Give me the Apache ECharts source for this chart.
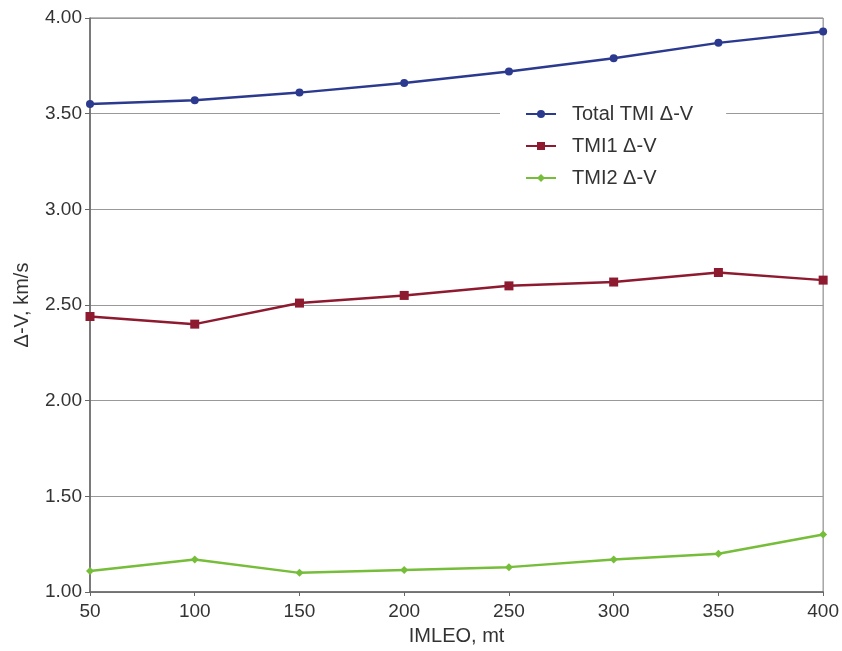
<!DOCTYPE html>
<html><head><meta charset="utf-8">
<script src="https://cdn.jsdelivr.net/npm/echarts@6/dist/echarts.min.js"></script>
<style>html,body{margin:0;padding:0;background:#fff}#c{width:842px;height:651px}</style>
</head><body><div id="c"></div>
<script>
const imleo = [50, 100, 150, 200, 250, 300, 350, 400];
const totalTMI = [3.55, 3.57, 3.61, 3.66, 3.72, 3.79, 3.87, 3.93];
const tmi1 = [2.44, 2.40, 2.51, 2.55, 2.60, 2.62, 2.67, 2.63];
const tmi2 = [1.11, 1.17, 1.10, 1.115, 1.13, 1.17, 1.20, 1.30];
const seriesNames = ['Total TMI \u0394-V', 'TMI1 \u0394-V', 'TMI2 \u0394-V'];

const pair = arr => imleo.map((x, i) => [x, arr[i]]);
const chart = echarts.init(document.getElementById('c'));
const font = 'Liberation Sans, Arial, sans-serif';
chart.setOption({
  animation: false,
  grid: { left: 90, right: 18, top: 18, bottom: 58, show: true, borderColor: '#777', borderWidth: 1, backgroundColor: 'transparent' },
  legend: {
    orient: 'vertical', left: 500, top: 98, backgroundColor: '#fff', padding: [6, 33, 6, 25],
    itemWidth: 30, itemHeight: 10, itemGap: 12,
    textStyle: { fontFamily: font, fontSize: 20, color: '#333', padding: [0, 0, 0, 11] },
    data: seriesNames
  },
  xAxis: {
    type: 'value', min: 50, max: 400, interval: 50,
    name: 'IMLEO, mt', nameLocation: 'middle', nameGap: 34,
    nameTextStyle: { fontFamily: font, fontSize: 20, color: '#333' },
    axisLine: { lineStyle: { color: '#666', width: 1.5 } },
    axisTick: { show: true, length: 4, lineStyle: { color: '#666' } },
    axisLabel: { fontFamily: font, fontSize: 19, color: '#333', margin: 10 },
    splitLine: { show: false }
  },
  yAxis: {
    type: 'value', min: 1, max: 4, interval: 0.5,
    name: '\u0394-V, km/s', nameLocation: 'middle', nameGap: 58,
    nameTextStyle: { fontFamily: font, fontSize: 20, color: '#333' },
    axisLine: { show: true, lineStyle: { color: '#666', width: 1.5 } },
    axisTick: { show: true, length: 5, lineStyle: { color: '#666' } },
    axisLabel: { fontFamily: font, fontSize: 19, color: '#333', margin: 8, formatter: v => v.toFixed(2) },
    splitLine: { show: true, lineStyle: { color: '#999', width: 1.2 } }
  },
  series: [
    { name: seriesNames[0], type: 'line', data: pair(totalTMI), symbol: 'circle', symbolSize: 8,
      itemStyle: { color: '#2b3a8e' }, lineStyle: { width: 2.5, color: '#2b3a8e' }, z: 3 },
    { name: seriesNames[1], type: 'line', data: pair(tmi1), symbol: 'rect', symbolSize: 9,
      itemStyle: { color: '#8e1a30' }, lineStyle: { width: 2.5, color: '#8e1a30' }, z: 3 },
    { name: seriesNames[2], type: 'line', data: pair(tmi2), symbol: 'diamond', symbolSize: 8,
      itemStyle: { color: '#76bd3a' }, lineStyle: { width: 2.5, color: '#76bd3a' }, z: 3 }
  ]
});
</script></body></html>
